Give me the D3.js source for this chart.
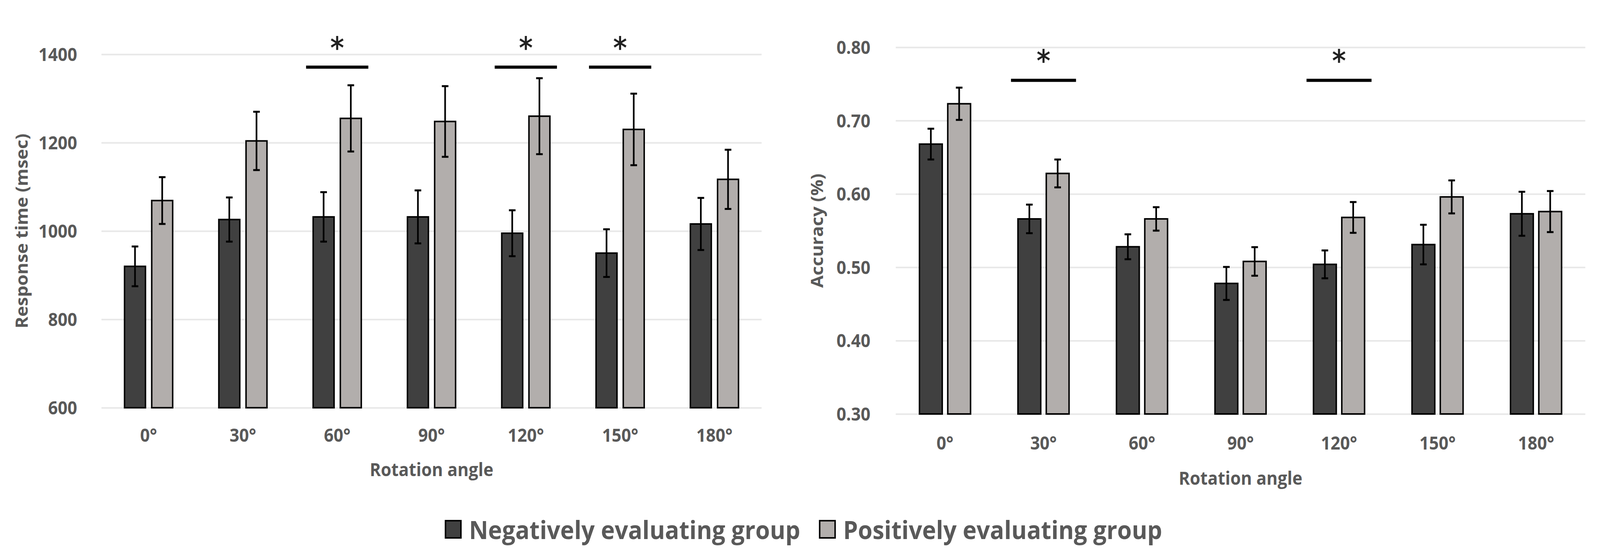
<!DOCTYPE html>
<html>
<head>
<meta charset="utf-8">
<script src="https://cdn.jsdelivr.net/npm/d3@7"></script>
<style>
  html, body { margin: 0; padding: 0; background: #ffffff; overflow: hidden; width: 100%; height: 100%; }
  svg { display: block; width: 100vw; height: 100vh; }
</style>
</head>
<body>
<svg id="chart" viewBox="0 0 4353 1430" preserveAspectRatio="none"></svg>
<script>
// ---------- DATA ----------
const categories = ["0°", "30°", "60°", "90°", "120°", "150°", "180°"];
const groups = ["Negatively evaluating group", "Positively evaluating group"];

// Response time (msec)
const rtNegative    = [920, 1026, 1032, 1032, 995, 950, 1016];
const rtNegativeErr = [45, 50, 56, 60, 52, 54, 59];
const rtPositive    = [1069, 1204, 1255, 1248, 1260, 1230, 1117];
const rtPositiveErr = [53, 66, 75, 80, 86, 81, 67];
const rtTicks = [600, 800, 1000, 1200, 1400];
const rtSignificant = ["60°", "120°", "150°"];
const rtSigLevel = 1371;

// Accuracy (%)
const accNegative    = [0.668, 0.566, 0.528, 0.478, 0.504, 0.531, 0.573];
const accNegativeErr = [0.021, 0.0195, 0.017, 0.0225, 0.019, 0.027, 0.030];
const accPositive    = [0.723, 0.628, 0.566, 0.508, 0.568, 0.596, 0.576];
const accPositiveErr = [0.022, 0.019, 0.016, 0.0195, 0.021, 0.0225, 0.028];
const accTicks = [0.30, 0.40, 0.50, 0.60, 0.70, 0.80];
const accSignificant = ["30°", "120°"];
const accSigLevel = 0.755;

// ---------- STYLE ----------
const FONT = "'Open Sans', 'Noto Sans', sans-serif";
const TEXT_COLOR = "#595959";
const FILLS = ["#404040", "#b2aeac"];
const GRID_COLOR = "#e8e8e8";

const svg = d3.select("#chart");

function drawPanel(cfg) {
  const g = svg.append("g");
  const x0 = d3.scaleBand().domain(categories).range([cfg.left, cfg.right]).paddingInner(0).paddingOuter(0);
  const y = d3.scaleLinear().domain(cfg.domain).range([cfg.bottom, cfg.top]);

  // grid + y tick labels
  const yAxis = d3.axisLeft(y)
    .tickValues(cfg.ticks)
    .tickSize(-(cfg.right - cfg.left))
    .tickPadding(cfg.yTickPad)
    .tickFormat(cfg.tickFormat);
  const ya = g.append("g").attr("transform", `translate(${cfg.left},0)`).call(yAxis);
  ya.select(".domain").remove();
  ya.selectAll(".tick line").attr("stroke", GRID_COLOR).attr("stroke-width", 4);
  ya.selectAll(".tick text")
    .attr("fill", TEXT_COLOR).attr("font-family", FONT).attr("font-weight", 700)
    .attr("font-size", 46).attr("dy", "0.36em");

  // x tick labels
  const xAxis = d3.axisBottom(x0).tickSize(0).tickPadding(cfg.xTickPad);
  const xa = g.append("g").attr("transform", `translate(0,${cfg.bottom})`).call(xAxis);
  xa.select(".domain").remove();
  xa.selectAll(".tick text")
    .attr("fill", TEXT_COLOR).attr("font-family", FONT).attr("font-weight", 700)
    .attr("font-size", 46);

  // bars
  const bw = cfg.barWidth, gap = cfg.barGap;
  const series = [cfg.neg, cfg.pos];
  const errs = [cfg.negErr, cfg.posErr];
  series.forEach((vals, si) => {
    const xOf = (i) => x0(categories[i]) + x0.bandwidth() / 2 + (si === 0 ? -gap / 2 - bw : gap / 2);
    g.append("g").selectAll("rect").data(vals).join("rect")
      .attr("x", (d, i) => xOf(i))
      .attr("y", d => y(d))
      .attr("width", bw)
      .attr("height", d => y(cfg.domain[0]) - y(d))
      .attr("fill", FILLS[si])
      .attr("stroke", "#000")
      .attr("stroke-width", 4);
    // error bars
    const eg = g.append("g");
    vals.forEach((v, i) => {
      const cx = xOf(i) + bw / 2;
      const e = errs[si][i];
      eg.append("line").attr("x1", cx).attr("x2", cx).attr("y1", y(v + e)).attr("y2", y(v - e))
        .attr("stroke", "#000").attr("stroke-width", 4.5);
      [v + e, v - e].forEach(ev => {
        eg.append("line").attr("x1", cx - 9).attr("x2", cx + 9).attr("y1", y(ev)).attr("y2", y(ev))
          .attr("stroke", "#000").attr("stroke-width", 5);
      });
    });
  });

  // significance markers
  const sg = g.append("g");
  cfg.sig.forEach(cat => {
    const cx = x0(cat) + x0.bandwidth() / 2;
    const half = x0.bandwidth() * 0.33;
    const ly = y(cfg.sigLevel);
    sg.append("line").attr("x1", cx - half).attr("x2", cx + half).attr("y1", ly).attr("y2", ly)
      .attr("stroke", "#000").attr("stroke-width", 8);
    sg.append("text").attr("x", cx).attr("y", ly - 60 + 36)
      .attr("text-anchor", "middle")
      .attr("font-family", "'DejaVu Sans', sans-serif").attr("font-size", 74)
      .attr("fill", "#222").attr("stroke", "#222").attr("stroke-width", 1.5).text("*");
  });

  // axis titles
  g.append("text")
    .attr("x", (cfg.left + cfg.right) / 2).attr("y", cfg.xTitleY)
    .attr("text-anchor", "middle").attr("dominant-baseline", "central")
    .attr("fill", TEXT_COLOR).attr("font-family", FONT).attr("font-weight", 700).attr("font-size", 46)
    .text("Rotation angle");
  g.append("text")
    .attr("transform", `translate(${cfg.yTitleX},${(cfg.top + cfg.bottom) / 2}) rotate(-90)`)
    .attr("text-anchor", "middle").attr("dominant-baseline", "central")
    .attr("fill", TEXT_COLOR).attr("font-family", FONT).attr("font-weight", 700).attr("font-size", 46)
    .text(cfg.yTitle);
}

drawPanel({
  left: 276, right: 2072, top: 139, bottom: 1043,
  domain: [600, 1400], ticks: rtTicks, tickFormat: d3.format("d"),
  neg: rtNegative, negErr: rtNegativeErr, pos: rtPositive, posErr: rtPositiveErr,
  sig: rtSignificant, sigLevel: rtSigLevel,
  barWidth: 57, barGap: 17, yTickPad: 66, xTickPad: 54,
  xTitleY: 1200, yTitleX: 57, yTitle: "Response time (msec)"
});

drawPanel({
  left: 2437, right: 4313, top: 121, bottom: 1059,
  domain: [0.30, 0.80], ticks: accTicks, tickFormat: d3.format(".2f"),
  neg: accNegative, negErr: accNegativeErr, pos: accPositive, posErr: accPositiveErr,
  sig: accSignificant, sigLevel: accSigLevel,
  barWidth: 62, barGap: 15, yTickPad: 69, xTickPad: 58,
  xTitleY: 1222, yTitleX: 2221, yTitle: "Accuracy (%)"
});

// ---------- LEGEND ----------
const legend = svg.append("g");
const legendX = [1212, 2230];
groups.forEach((name, i) => {
  legend.append("rect").attr("x", legendX[i]).attr("y", 1332).attr("width", 42).attr("height", 44)
    .attr("fill", FILLS[i]).attr("stroke", "#000").attr("stroke-width", 4);
  legend.append("text").attr("x", legendX[i] + 64).attr("y", 1354)
    .attr("dominant-baseline", "central")
    .attr("fill", TEXT_COLOR).attr("font-family", FONT).attr("font-weight", 700).attr("font-size", 64)
    .text(name);
});
</script>
</body>
</html>
